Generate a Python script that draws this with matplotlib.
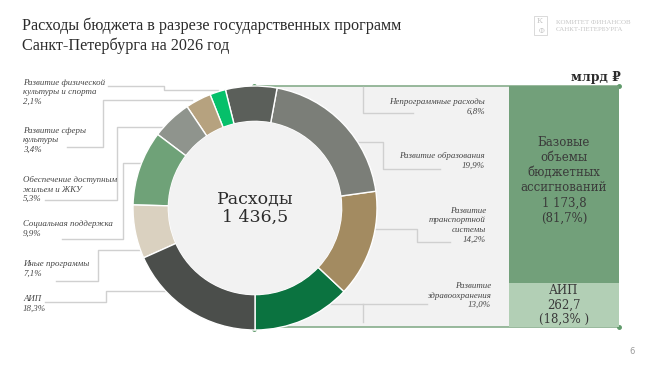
import matplotlib.pyplot as plt
from matplotlib.patches import Rectangle, Circle

##data
names = ['Развитие\nздравоохранения', 'Развитие\nтранспортной\nсистемы', 'Развитие образования',
         'Непрограммные расходы', 'Развитие физической\nкультуры и спорта', 'Развитие сферы\nкультуры',
         'Обеспечение доступным\nжильем и ЖКУ', 'Социальная поддержка', 'Иные программы', 'АИП']
shares = [13.0, 14.2, 19.9, 6.8, 2.1, 3.4, 5.3, 9.9, 7.1, 18.3]
colors = ['#0b7340', '#a38b61', '#7b7e78', '#5b5f5a', '#06c06a', '#b6a27f',
          '#8f948d', '#6fa278', '#dad1c0', '#4b4e4b']
total = 1436.5
bar_names = ['АИП', 'Базовые\nобъемы\nбюджетных\nассигнований']
bar_vals = [262.7, 1173.8]
bar_pct = [18.3, 81.7]
bar_colors = ['#b2cfb5', '#72a07a']

SERIF = ['DejaVu Serif', 'DejaVu Sans']
TIMES = ['Liberation Serif', 'DejaVu Serif']

def fmt(v):
    return ('%.1f' % v).replace('.', ',')

fig = plt.figure(figsize=(6.56, 3.69), dpi=100)
fig.patch.set_facecolor('white')

##background axes in pixel coords
bg = fig.add_axes([0, 0, 1, 1])
bg.set_xlim(0, 656)
bg.set_ylim(369, 0)
bg.axis('off')

bg.add_patch(Rectangle((254, 86), 255, 241, facecolor='#f2f2f2', edgecolor='none', zorder=0))
bg.plot([254, 619], [86, 86], color='#86ad8b', lw=1.2, zorder=1)
bg.plot([254, 619], [327, 327], color='#86ad8b', lw=1.2, zorder=1)
bg.plot([254, 619, 254, 619], [86, 86, 329, 327], 'o', color='#5f9a6a', ms=2.5, zorder=5)

##title + logo
bg.text(22, 36, 'Расходы бюджета в разрезе государственных программ\nСанкт-Петербурга на 2026 год',
        fontsize=11.6, family=TIMES, color='#2b2b2b', va='center', linespacing=1.3)
bg.add_patch(Rectangle((534, 16), 13, 19, facecolor='none', edgecolor='#d4d4d4', lw=0.6))
bg.text(540, 26, 'К\n  Ф', fontsize=5.5, family=SERIF, color='#c8c8c8', va='center', ha='center',
        linespacing=1.2)
bg.text(556, 26, 'КОМИТЕТ ФИНАНСОВ\nСАНКТ-ПЕТЕРБУРГА', fontsize=5, family=TIMES,
        color='#c8c8c8', va='center', linespacing=1.3)
bg.text(632, 351, '6', fontsize=6, color='#9a9a9a', ha='center', va='center')
bg.text(621, 77, 'млрд ₽', fontsize=9, family=SERIF, weight='bold', color='#2b2b2b',
        ha='right', va='center')

##leader lines
lc = '#d0d0d0'
leaders = [
    [(108, 86), (164, 86), (164, 90), (218, 90)],
    [(67, 147), (103, 147), (103, 100), (192, 100)],
    [(45, 200), (117, 200), (117, 127), (165, 127)],
    [(62, 239), (123, 239), (123, 163), (142, 163)],
    [(56, 281), (98, 281), (98, 250), (140, 250)],
    [(45, 302), (106, 302), (106, 291), (170, 291)],
    [(363, 87), (363, 113), (413, 113)],
    [(350, 142), (383, 142), (383, 169), (440, 169)],
    [(372, 229), (417, 229), (417, 242), (450, 242)],
    [(320, 304), (427, 304)],
    [(363, 304), (363, 322)],
]
for pts in leaders:
    bg.plot([p[0] for p in pts], [p[1] for p in pts], color=lc, lw=1, zorder=1)

##labels left
lab_left = [(4, 84), (5, 132), (6, 181), (7, 225), (8, 265), (9, 300)]
for i, y in lab_left:
    bg.text(23, y - 5, names[i] + '\n' + fmt(shares[i]) + '%', fontsize=6.4, family=TIMES,
            style='italic', color='#444444', va='top', ha='left', linespacing=1.25)
##labels right
lab_right = [(3, 103, 485), (2, 157, 485), (1, 212, 486), (0, 287, 491)]
for i, y, x in lab_right:
    bg.text(x, y - 5, names[i] + '\n' + fmt(shares[i]) + '%', fontsize=6.4, family=TIMES,
            style='italic', color='#444444', va='top', ha='right', linespacing=1.25,
            multialignment='right')

##donut
ax = fig.add_axes([133 / 656, 39 / 369, 244 / 656, 244 / 369])
ax.pie(shares, colors=colors, startangle=-90, counterclock=True,
       wedgeprops=dict(width=0.29, edgecolor='white', linewidth=1))
ax.add_patch(Circle((0, 0), 0.71, facecolor='#f2f2f2', edgecolor='none'))
ax.set_xlim(-1, 1)
ax.set_ylim(-1, 1)
ax.set_aspect('equal')
ax.axis('off')
ax.text(0, 0, 'Расходы\n' + '1 436,5', fontsize=12.5, family=SERIF, color='#2b2b2b',
        ha='center', va='center', linespacing=1.1)

##stacked bar
bx = fig.add_axes([509 / 656, 42 / 369, 110 / 656, 241 / 369])
bx.bar(0, bar_vals[0], width=1, color=bar_colors[0])
bx.bar(0, bar_vals[1], bottom=bar_vals[0], width=1, color=bar_colors[1])
bx.set_xlim(-0.5, 0.5)
bx.set_ylim(0, total)
bx.axis('off')
bx.text(0, bar_vals[0] + bar_vals[1] / 2 + 25, bar_names[1] + '\n' + '1 173,8' + '\n(' + fmt(bar_pct[1]) + '%)',
        fontsize=8.5, family=SERIF, color='#3a3a3a', ha='center', va='center', linespacing=1.22)
bx.text(0, bar_vals[0] / 2, bar_names[0] + '\n' + fmt(bar_vals[0]) + '\n(' + fmt(bar_pct[0]) + '% )',
        fontsize=8.5, family=SERIF, color='#3a3a3a', ha='center', va='center', linespacing=1.15)

fig.savefig('out.png', dpi=100)
